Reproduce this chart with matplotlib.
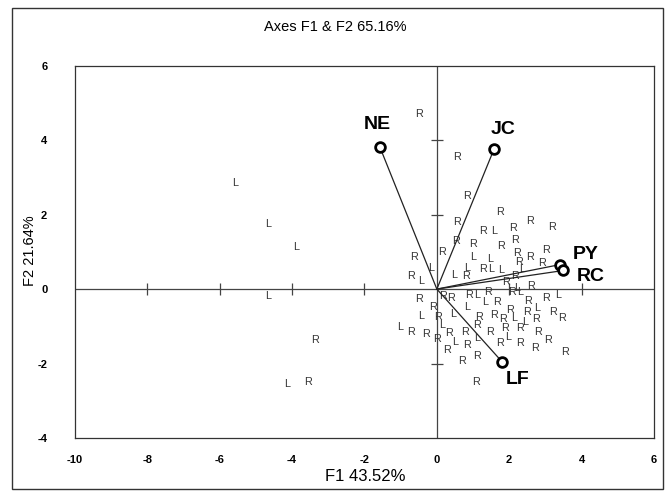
import matplotlib.pyplot as plt
from matplotlib.patches import Rectangle

plt.rcParams['font.family'] = ['Liberation Sans', 'DejaVu Sans']
plt.rcParams['axes.unicode_minus'] = False

# observations (F1, F2) grouped by their label letter
l_x = [-5.57, -4.65, -3.88, -4.65, -4.13,
       1.58, -0.17, 1.00, 1.47, -0.44, 0.47, 0.83, 1.50, 1.77, 2.35, 2.22,
       1.11, 2.30, 3.35, 1.33, 0.83, 0.44, -0.44, 2.13, 2.44, 2.77, -1.02,
       0.14, 1.11, 1.97, 0.50]
l_y = [2.84, 1.74, 1.12, -0.18, -2.55,
       1.55, 0.58, 0.85, 0.80, 0.23, 0.39, 0.58, 0.53, 0.50, 0.53, 0.04,
       -0.15, -0.07, -0.15, -0.34, -0.47, -0.66, -0.71, -0.77, -0.88, -0.50, -1.01,
       -0.96, -1.31, -1.28, -1.42]

r_x = [-3.38, -3.55,
       -0.50, 0.55, 0.83, 1.75, 2.58, 3.19, 0.55, 1.27, 2.11, 0.53, 1.00, 1.77,
       2.16, 0.14, 2.22, 2.58, 3.02, 2.91, -0.64, 2.27, -0.72, 0.80, 1.27, 1.91,
       2.16, 2.60,
       0.17, 0.39, 0.89, 1.41, 2.08, 3.02, 1.66, 2.52, -0.50, -0.11, 0.03, 1.16,
       1.58, 2.02, 1.83, 2.49, 2.74, 3.21, 3.46, -0.72, -0.30, 0.33, 0.78, 1.11,
       1.47, 1.88, 2.30, 2.80, 3.07, 0.00, 0.83, 1.75, 2.30, 2.71, 0.28, 1.11,
       0.69, 3.55, 1.08]
r_y = [-1.36, -2.49,
       4.70, 3.54, 2.49, 2.06, 1.82, 1.66, 1.79, 1.55, 1.63, 1.28, 1.20, 1.15,
       1.33, 1.01, 0.98, 0.85, 1.04, 0.71, 0.85, 0.74, 0.34, 0.34, 0.53, 0.18,
       0.34, 0.07,
       -0.18, -0.23, -0.15, -0.07, -0.09, -0.23, -0.34, -0.31, -0.26, -0.47, -0.74, -0.74,
       -0.69, -0.55, -0.80, -0.61, -0.80, -0.61, -0.77, -1.15, -1.20, -1.17, -1.15, -0.96,
       -1.15, -1.04, -1.04, -1.15, -1.36, -1.33, -1.50, -1.44, -1.44, -1.58, -1.63, -1.79,
       -1.93, -1.68, -2.49]

# variables
var_names = ["NE", "JC", "PY", "RC", "LF"]
var_x = [-1.58, 1.58, 3.41, 3.50, 1.80]
var_y = [3.83, 3.76, 0.66, 0.50, -1.95]
label_offsets = [(-1.5, 16), (6.5, 14.5), (18, 7), (19.5, -4.5), (11, -13)]

x_ticks = [-10, -8, -6, -4, -2, 0, 2, 4, 6]
y_ticks = [-4, -2, 0, 2, 4, 6]

fig = plt.figure(figsize=(6.7, 4.91), dpi=100)
ax = fig.add_axes([0.112, 0.108, 0.864, 0.758])
ax.set_xlim(-10, 6)
ax.set_ylim(-4, 6)

# crosshair through origin with small tick marks
ax.axhline(0, color="#444444", lw=0.9, zorder=1)
ax.axvline(0, color="#444444", lw=0.9, zorder=1)
inner_x = [t for t in x_ticks if t not in (-10, 0, 6)]
inner_y = [t for t in y_ticks if t not in (-4, 0, 6)]
ax.plot(inner_x, [0] * len(inner_x), ls="none", marker="|", ms=8, mew=0.9, color="#444444")
ax.plot([0] * len(inner_y), inner_y, ls="none", marker="_", ms=8, mew=0.9, color="#444444")

for x, y in zip(l_x, l_y):
    ax.text(x, y, "L", ha="center", va="center", fontsize=7.8, color="#333333")
for x, y in zip(r_x, r_y):
    ax.text(x, y, "R", ha="center", va="center", fontsize=7.8, color="#333333")

for name, x, y, off in zip(var_names, var_x, var_y, label_offsets):
    ax.plot([0, x], [0, y], color="#222222", lw=0.9, zorder=3)
    ax.plot(x, y, marker="o", ms=7, mfc="white", mec="black", mew=2, zorder=4)
    ax.annotate(name, (x, y), xytext=off, textcoords="offset points",
                ha="center", va="center", fontsize=14, fontweight="bold")

ax.set_xticks(x_ticks)
ax.set_yticks(y_ticks)
ax.tick_params(length=0, labelsize=8)
ax.tick_params(axis="x", pad=12)
ax.tick_params(axis="y", pad=20)
for lab in ax.get_xticklabels() + ax.get_yticklabels():
    lab.set_fontweight("bold")
for s in ax.spines.values():
    s.set_color("#333333")
    s.set_linewidth(0.9)

fig.text(0.5, 0.945, "Axes F1 & F2 65.16%", ha="center", va="center", fontsize=10.5)
fig.text(0.545, 0.029, "F1 43.52%", ha="center", va="center", fontsize=12)
fig.text(0.045, 0.49, "F2 21.64%", ha="center", va="center", rotation=90, fontsize=10.5)

fig.patches.append(Rectangle((0.018, 0.004), 0.972, 0.98, transform=fig.transFigure,
                             fill=False, edgecolor="#333333", lw=1))

fig.savefig("out.png", dpi=100)
